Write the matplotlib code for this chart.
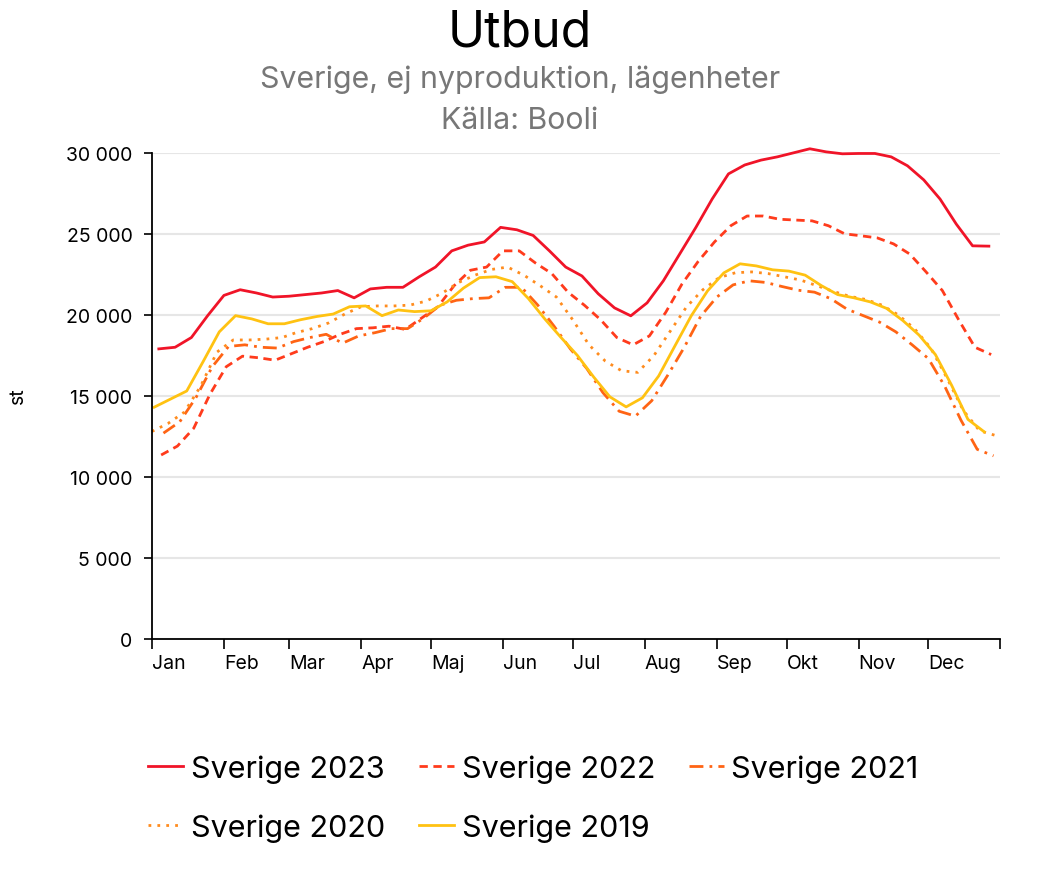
import matplotlib
matplotlib.use("Agg")
from matplotlib import pyplot as plt
import matplotlib.ticker as mticker
import pandas as pd

plt.rcParams['font.family'] = ['Inter', 'DejaVu Sans']

# weekly values (Wednesdays)
sverige_2023 = [17900, 18000, 18600, 19950, 21200, 21550, 21350, 21100, 21150, 21250,
                21350, 21500, 21050, 21600, 21700, 21700, 22350, 22950, 23950, 24300,
                24500, 25400, 25250, 24900, 23950, 22950, 22400, 21300, 20430, 19940,
                20740, 22100, 23750, 25400, 27150, 28700, 29250, 29550, 29750, 30000,
                30250, 30060, 29940, 29960, 29960, 29750, 29200, 28330, 27150, 25600,
                24260, 24240]
sverige_2022 = [11350, 11900, 13000, 15100, 16800, 17450, 17350, 17200, 17600, 18000,
                18350, 18800, 19150, 19200, 19300, 19100, 19800, 20500, 21800, 22750,
                22950, 23950, 23950, 23200, 22550, 21400, 20600, 19700, 18600, 18150,
                18700, 20150, 21900, 23300, 24500, 25500, 26100, 26100, 25900, 25850,
                25800, 25500, 25000, 24880, 24750, 24380, 23750, 22650, 21500, 19700,
                18000, 17550]
sverige_2021 = [12700, 13400, 14900, 16800, 18050, 18150, 18000, 17950, 18350, 18600,
                18800, 18250, 18700, 18900, 19150, 19150, 19800, 20600, 20900, 21000,
                21050, 21700, 21700, 20600, 19300, 17900, 16700, 15200, 14050, 13750,
                14700, 16300, 18000, 19900, 21100, 21850, 22100, 22000, 21750, 21520,
                21400, 21000, 20350, 19950, 19550, 18950, 18150, 17300, 15600, 13500,
                11700, 11300]
sverige_2020 = [12800, 13300, 14000, 15600, 17700, 18450, 18450, 18500, 18600, 18900,
                19150, 19500, 20050, 20500, 20550, 20550, 20600, 20850, 21350, 22000,
                22450, 22800, 22950, 22450, 21800, 21100, 19700, 18150, 17150, 16550,
                16450, 17500, 19000, 20500, 21550, 22300, 22600, 22650, 22550, 22350,
                22150, 21800, 21450, 21150, 20950, 20600, 20000, 19150, 17950, 16100,
                14100, 12850, 12550]
sverige_2019 = [14300, 14800, 15300, 17100, 18950, 19950, 19750, 19450, 19450, 19700,
                19900, 20050, 20500, 20550, 19950, 20300, 20200, 20250, 20800, 21650,
                22300, 22350, 22050, 21000, 19750, 18600, 17500, 16170, 14940, 14320,
                14880, 16230, 18090, 19940, 21480, 22590, 23150, 23020, 22780, 22700,
                22450, 21800, 21250, 21050, 20800, 20400, 19650, 18750, 17550, 15650,
                13550, 12780]

years = [2023, 2022, 2021, 2020, 2019]
values = [sverige_2023, sverige_2022, sverige_2021, sverige_2020, sverige_2019]
colors = ['#f01428', '#ff3b1c', '#ff6414', '#ff8c1e', '#ffc212']
styles = ['-', (0, (3, 2)), (0, (5, 2.2, 1, 2.2)), (0, (1, 2.2)), '-']
month_labels = ['Jan', 'Feb', 'Mar', 'Apr', 'Maj', 'Jun', 'Jul', 'Aug', 'Sep', 'Okt', 'Nov', 'Dec']

fig = plt.figure(figsize=(10.4, 8.79), dpi=100)
ax = fig.add_axes([0.146, 0.272, 0.816, 0.553])

lines = []
for yr, vals, c, ls in zip(years, values, colors, styles):
    dates = pd.date_range(f'{yr}-01-01', f'{yr}-12-31', freq='W-WED')
    dates = [d.replace(year=2023) for d in dates]
    ln, = ax.plot(dates, vals, color=c, linestyle=ls, lw=2.0, label=f'Sverige {yr}',
                  clip_on=False)
    lines.append(ln)

ax.set_xlim(pd.Timestamp('2023-01-01'), pd.Timestamp('2024-01-01'))
ax.set_ylim(0, 30000)
ax.set_yticks(range(0, 30001, 5000))
ax.yaxis.set_major_formatter(mticker.FuncFormatter(lambda v, p: f'{int(v):,}'.replace(',', ' ')))

ticks = [pd.Timestamp(f'2023-{m:02d}-01') for m in range(1, 13)] + [pd.Timestamp('2024-01-01')]
ax.set_xticks(ticks)
ax.set_xticklabels(month_labels + [''], ha='left')
ax.tick_params(axis='x', labelsize=14, length=7, width=1.2, pad=4)
ax.tick_params(axis='y', labelsize=14, length=6, width=1.2, pad=8)

ax.grid(axis='y', color='#e6e6e6', lw=1.5)
ax.set_axisbelow(True)
for s in ['top', 'right']:
    ax.spines[s].set_visible(False)
ax.spines['left'].set_linewidth(1.3)
ax.spines['bottom'].set_linewidth(1.3)

fig.text(18 / 1040, 1 - 396 / 879, 'st', rotation=90, ha='center', va='center', fontsize=14)

fig.text(0.5, 0.962, 'Utbud', ha='center', va='center', fontsize=36)
fig.text(0.5, 0.909, 'Sverige, ej nyproduktion, lägenheter', ha='center', va='center',
         fontsize=21.8, color='#777777')
fig.text(0.5, 0.862, 'Källa: Booli', ha='center', va='center', fontsize=21.8, color='#777777')

# legend filled row by row: 2023 2022 2021 / 2020 2019
order = [0, 3, 1, 4, 2]
fig.legend([lines[i] for i in order], [lines[i].get_label() for i in order],
           loc='center', bbox_to_anchor=(0.513, 0.091), ncol=3, frameon=False,
           fontsize=22, handlelength=1.15, handletextpad=0.25, columnspacing=1.1,
           labelspacing=1.0)

plt.savefig('out.png', dpi=100)
